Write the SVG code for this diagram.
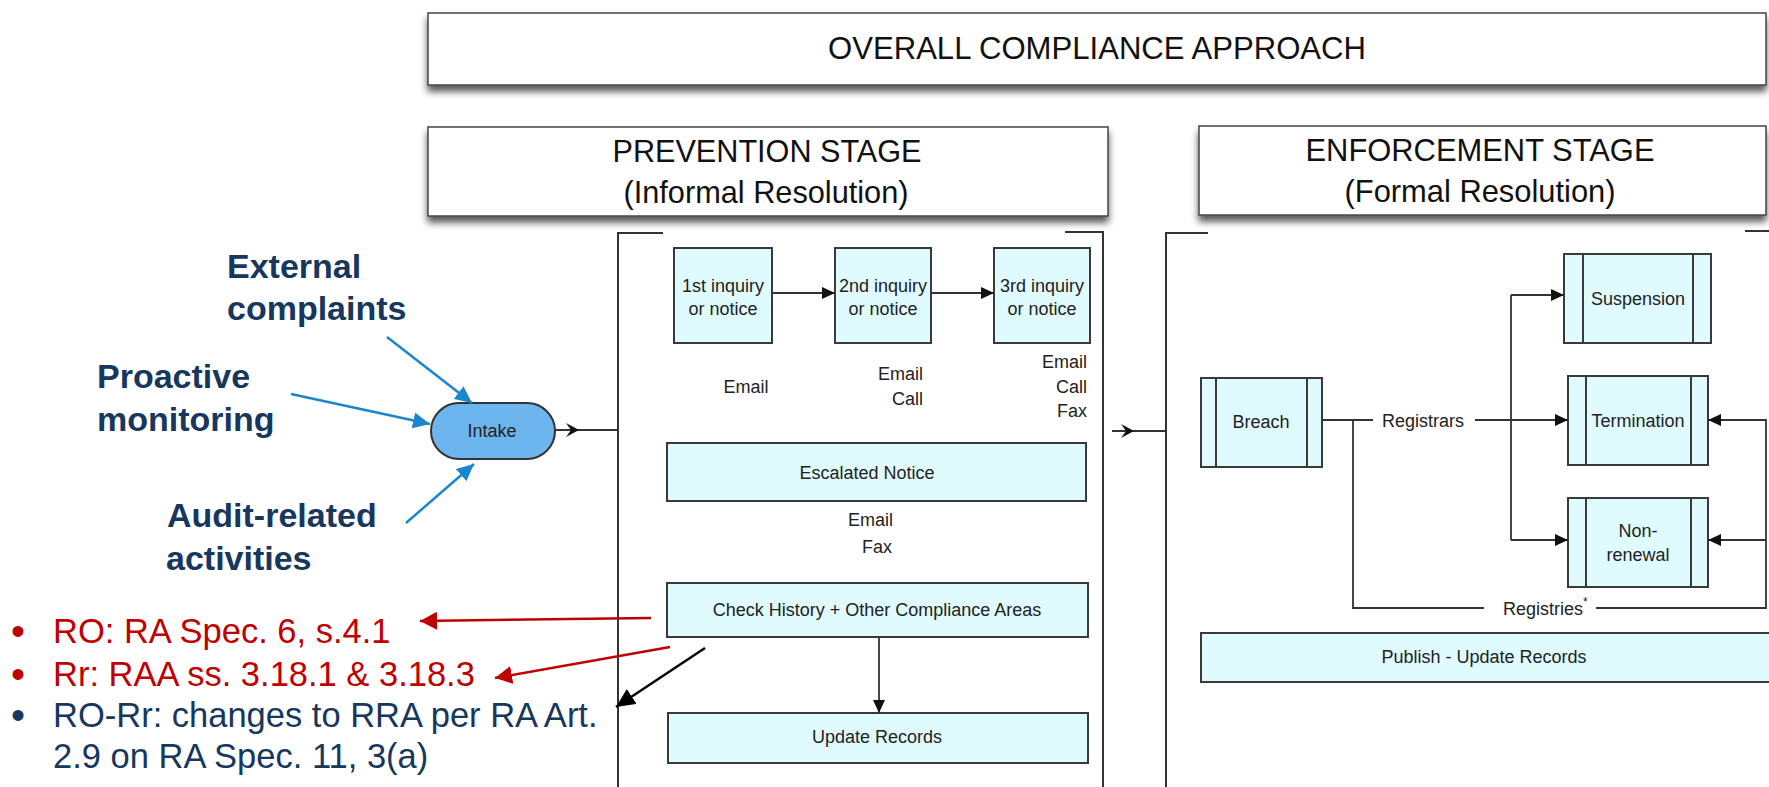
<svg xmlns="http://www.w3.org/2000/svg" width="1769" height="787" viewBox="0 0 1769 787">
<defs>
<filter id="sh" x="-5%" y="-20%" width="110%" height="160%">
<feDropShadow dx="0" dy="6" stdDeviation="3.5" flood-color="#000" flood-opacity="0.65"/>
</filter>
<marker id="ah" markerUnits="userSpaceOnUse" markerWidth="14" markerHeight="12" refX="13" refY="6" orient="auto">
<path d="M0,0 L13,6 L0,12 z" fill="#111"/>
</marker>
<marker id="barb" markerUnits="userSpaceOnUse" markerWidth="14" markerHeight="14" refX="13" refY="7" orient="auto">
<path d="M0,0 L13,7 L0,14 L5,7 z" fill="#111"/>
</marker>
<marker id="blue" markerUnits="userSpaceOnUse" markerWidth="18" markerHeight="16" refX="17" refY="8" orient="auto">
<path d="M0,0 L17,8 L0,16 z" fill="#1B86D0"/>
</marker>
<marker id="red" markerUnits="userSpaceOnUse" markerWidth="18" markerHeight="18" refX="17" refY="9" orient="auto">
<path d="M0,0 L17,9 L0,18 z" fill="#C00000"/>
</marker>
<marker id="blk" markerUnits="userSpaceOnUse" markerWidth="20" markerHeight="18" refX="19" refY="9" orient="auto">
<path d="M0,0 L19,9 L0,18 z" fill="#000"/>
</marker>
</defs>
<style>
text { font-family: "Liberation Sans", Arial, Helvetica, sans-serif; }
.hdr { fill:#fff; stroke:#444; stroke-width:1.5; filter:url(#sh); }
.hdrt { font-size:32px; fill:#111; text-anchor:middle; }
.box { fill:#E0FBFE; stroke:#3a3a3a; stroke-width:2; }
.in { stroke:#3a3a3a; stroke-width:2; fill:none; }
.bt { font-size:18px; fill:#222; text-anchor:middle; }
.lt { font-size:18px; fill:#222; }
.ln { stroke:#333; stroke-width:1.8; fill:none; }
.cont { stroke:#333; stroke-width:2; fill:none; }
.src { font-size:34px; font-weight:bold; fill:#17375E; }
.refr { font-size:34.5px; fill:#C00000; }
.refn { font-size:34.5px; fill:#17375E; }
.bul { font-size:40px; }
.bl { stroke:#1B86D0; stroke-width:2.5; fill:none; }
.rd { stroke:#C00000; stroke-width:2.5; fill:none; }
.bk { stroke:#000; stroke-width:2.5; fill:none; }
</style>
<rect width="1769" height="787" fill="#fff"/>

<g id="overall">
<rect class="hdr" x="428" y="13" width="1338" height="72"/>
<text class="hdrt" x="1097" y="59" textLength="538" lengthAdjust="spacingAndGlyphs">OVERALL COMPLIANCE APPROACH</text>
</g>
<g id="prevention-stage">
<rect class="hdr" x="428" y="127" width="680" height="89"/>
<text class="hdrt" x="767" y="162" textLength="309" lengthAdjust="spacingAndGlyphs">PREVENTION STAGE</text>
<text class="hdrt" x="766" y="203" textLength="285" lengthAdjust="spacingAndGlyphs">(Informal Resolution)</text>
</g>
<g id="enforcement-stage">
<rect class="hdr" x="1199" y="126" width="567" height="89"/>
<text class="hdrt" x="1480" y="161" textLength="349" lengthAdjust="spacingAndGlyphs">ENFORCEMENT STAGE</text>
<text class="hdrt" x="1480" y="202" textLength="271" lengthAdjust="spacingAndGlyphs">(Formal Resolution)</text>
</g>

<g id="containers">
<path class="cont" d="M663,233 H618 V787"/>
<path class="cont" d="M1065,232 H1103 V787"/>
<path class="cont" d="M1208,233 H1166 V787"/>
<path class="cont" d="M1745,231 H1769"/>
</g>

<g id="sources">
<text class="src" x="227" y="278">External</text>
<text class="src" x="227" y="320">complaints</text>
<text class="src" x="97" y="388">Proactive</text>
<text class="src" x="97" y="431">monitoring</text>
<text class="src" x="167" y="527">Audit-related</text>
<text class="src" x="166" y="570">activities</text>
</g>

<g id="intake">
<rect x="431" y="403" width="124" height="56" rx="28" fill="#6DB5EE" stroke="#333" stroke-width="2"/>
<text class="bt" x="492" y="437" fill="#1a2530">Intake</text>
</g>

<g id="inq1">
<rect class="box" x="674" y="248" width="98" height="95"/>
<text class="bt" x="723" y="292">1st inquiry</text>
<text class="bt" x="723" y="315">or notice</text>
<text class="bt" x="746" y="393">Email</text>
</g>
<g id="inq2">
<rect class="box" x="835" y="248" width="96" height="95"/>
<text class="bt" x="883" y="292">2nd inquiry</text>
<text class="bt" x="883" y="315">or notice</text>
<text class="lt" x="923" y="380" text-anchor="end">Email</text>
<text class="lt" x="923" y="405" text-anchor="end">Call</text>
</g>
<g id="inq3">
<rect class="box" x="994" y="248" width="96" height="95"/>
<text class="bt" x="1042" y="292">3rd inquiry</text>
<text class="bt" x="1042" y="315">or notice</text>
<text class="lt" x="1087" y="368" text-anchor="end">Email</text>
<text class="lt" x="1087" y="393" text-anchor="end">Call</text>
<text class="lt" x="1087" y="417" text-anchor="end">Fax</text>
</g>
<g id="escalated">
<rect class="box" x="667" y="443" width="419" height="58"/>
<text class="bt" x="867" y="479">Escalated Notice</text>
<text class="lt" x="893" y="526" text-anchor="end">Email</text>
<text class="lt" x="892" y="553" text-anchor="end">Fax</text>
</g>
<g id="check-history">
<rect class="box" x="667" y="583" width="421" height="54"/>
<text class="bt" x="877" y="616" font-size="18.5">Check History + Other Compliance Areas</text>
</g>
<g id="update-records">
<rect class="box" x="668" y="713" width="420" height="50"/>
<text class="bt" x="877" y="743" font-size="18.5">Update Records</text>
</g>

<g id="breach">
<rect class="box" x="1201" y="378" width="121" height="89"/>
<path class="in" d="M1216,378 V467 M1307,378 V467"/>
<text class="bt" x="1261" y="428">Breach</text>
</g>
<g id="suspension">
<rect class="box" x="1564" y="254" width="147" height="89"/>
<path class="in" d="M1583,254 V343 M1693,254 V343"/>
<text class="bt" x="1638" y="305">Suspension</text>
</g>
<g id="termination">
<rect class="box" x="1568" y="376" width="140" height="89"/>
<path class="in" d="M1586,376 V465 M1691,376 V465"/>
<text class="bt" x="1638" y="427">Termination</text>
</g>
<g id="non-renewal">
<rect class="box" x="1568" y="498" width="140" height="89"/>
<path class="in" d="M1586,498 V587 M1691,498 V587"/>
<text class="bt" x="1638" y="537">Non-</text>
<text class="bt" x="1638" y="561">renewal</text>
</g>
<g id="publish">
<rect class="box" x="1201" y="633" width="570" height="49"/>
<text class="bt" x="1484" y="663">Publish - Update Records</text>
</g>

<g id="references">
<text class="refr bul" x="11" y="645">•</text>
<text class="refr" x="53" y="643">RO: RA Spec. 6, s.4.1</text>
<text class="refr bul" x="11" y="688">•</text>
<text class="refr" x="53" y="686">Rr: RAA ss. 3.18.1 &amp; 3.18.3</text>
<text class="refn bul" x="11" y="729">•</text>
<text class="refn" x="53" y="727">RO-Rr: changes to RRA per RA Art.</text>
<text class="refn" x="53" y="768">2.9 on RA Spec. 11, 3(a)</text>
</g>

<g id="connectors">
<path class="bl" d="M387,337 L472,403" marker-end="url(#blue)"/>
<path class="bl" d="M291,394 L430,424" marker-end="url(#blue)"/>
<path class="bl" d="M406,523 L474,464" marker-end="url(#blue)"/>
<path class="ln" d="M555,430 L579,430 L618,430" marker-mid="url(#barb)"/>
<path class="ln" d="M1112,431 L1134,431 L1166,431" marker-mid="url(#barb)"/>
<path class="ln" d="M772,293 H835" marker-end="url(#ah)"/>
<path class="ln" d="M931,293 H994" marker-end="url(#ah)"/>
<path class="ln" d="M879,637 V713" marker-end="url(#ah)"/>
<path class="ln" d="M1322,420 H1373"/>
<path class="ln" d="M1475,420 H1568" marker-end="url(#ah)"/>
<path class="ln" d="M1511,295 V540"/>
<path class="ln" d="M1511,295 H1564" marker-end="url(#ah)"/>
<path class="ln" d="M1511,540 H1568" marker-end="url(#ah)"/>
<path class="ln" d="M1353,420 V608 H1484"/>
<path class="ln" d="M1596,608 H1766 V420 H1708" marker-end="url(#ah)"/>
<path class="ln" d="M1766,540 H1708" marker-end="url(#ah)"/>
<text class="lt" x="1423" y="427" text-anchor="middle">Registrars</text>
<text class="lt" x="1503" y="615">Registries<tspan dy="-9" font-size="12">*</tspan></text>
<path class="rd" d="M651,618 L420,621" marker-end="url(#red)"/>
<path class="rd" d="M670,647 L495,678" marker-end="url(#red)"/>
<path class="bk" d="M705,648 L616,707" marker-end="url(#blk)"/>
</g>
</svg>
